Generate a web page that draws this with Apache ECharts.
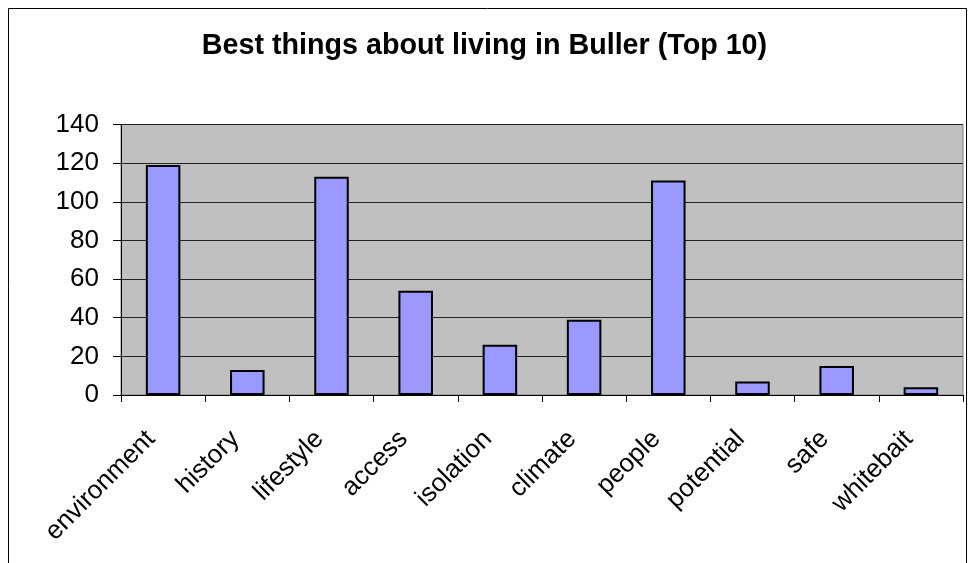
<!DOCTYPE html>
<html>
<head>
<meta charset="utf-8">
<script src="https://cdn.jsdelivr.net/npm/echarts@6/dist/echarts.min.js"></script>
<style>html,body{margin:0;padding:0;background:#fff}#c{width:969px;height:563px}</style>
</head>
<body>
<div id="c"></div>
<script>
const titleText = 'Best things about living in Buller (Top 10)';
const categories = ['environment','history','lifestyle','access','isolation','climate','people','potential','safe','whitebait'];
const values = [119, 13, 113, 54, 26, 39, 111, 7, 15, 4];
const yTicks = { min: 0, max: 140, interval: 20 };

const chart = echarts.init(document.getElementById('c'), null, { renderer: 'canvas' });
const font = 'Liberation Sans, Arial, sans-serif';
chart.setOption({
  animation: false,
  backgroundColor: '#fff',
  title: {
    text: titleText,
    left: 'center',
    top: 27,
    textStyle: { fontFamily: font, fontSize: 28.7, fontWeight: 'bold', color: '#000' }
  },
  graphic: [{
    type: 'rect',
    shape: { x: 8.5, y: 8.5, width: 958, height: 580 },
    style: { fill: 'none', stroke: '#000', lineWidth: 1 },
    silent: true
  }],
  grid: {
    left: 121, right: 6, top: 124.5, bottom: 168,
    show: true, backgroundColor: '#c0c0c0', borderColor: '#808080', borderWidth: 1
  },
  xAxis: {
    type: 'category',
    data: categories,
    axisLine: { lineStyle: { color: '#000', width: 1 } },
    axisTick: { show: true, alignWithLabel: false, length: 7, lineStyle: { color: '#000' } },
    axisLabel: { rotate: 45, margin: 28, padding: [0, 17, 0, 0], fontFamily: font, fontSize: 26, color: '#000', interval: 0 },
    splitLine: { show: false }
  },
  yAxis: {
    type: 'value',
    min: yTicks.min, max: yTicks.max, interval: yTicks.interval,
    axisLine: { show: true, lineStyle: { color: '#000', width: 1 } },
    axisTick: { show: true, length: 8, lineStyle: { color: '#000' } },
    axisLabel: { margin: 22, fontFamily: font, fontSize: 26, color: '#000' },
    splitLine: { show: true, lineStyle: { color: '#222', width: 1 } }
  },
  series: [{
    type: 'bar',
    data: values,
    barWidth: '41%',
    itemStyle: { color: '#9999ff', borderColor: '#000', borderWidth: 2 }
  }]
});
</script>
</body>
</html>
